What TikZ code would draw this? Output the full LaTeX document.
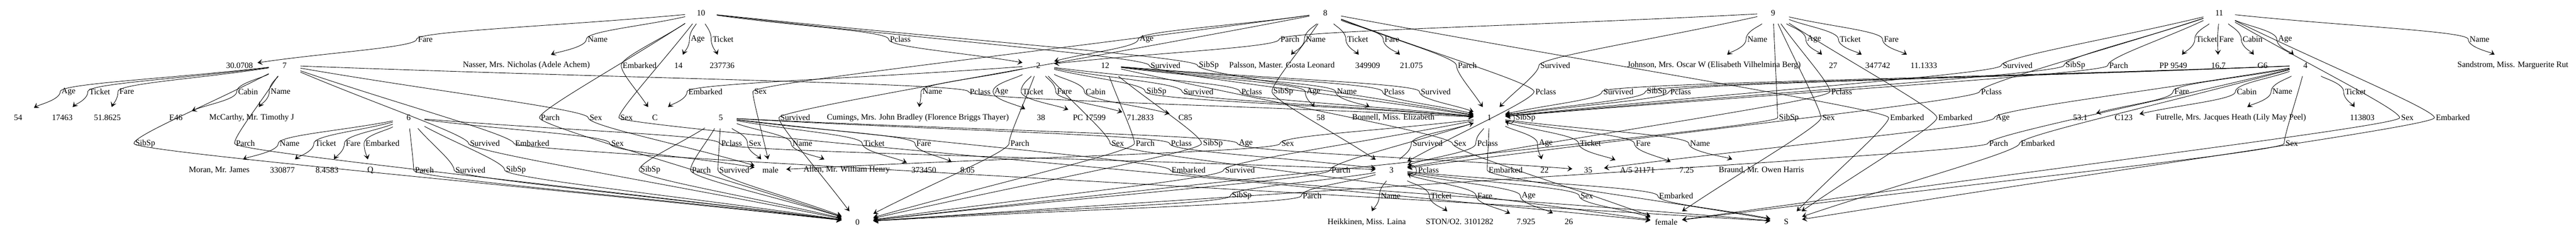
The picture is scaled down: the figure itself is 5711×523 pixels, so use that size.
\documentclass[tikz,border=0pt]{standalone}
\usepackage{fontspec}
\setmainfont{Liberation Serif}
\usetikzlibrary{arrows.meta,calc}

% attribute edge: from, to, label x, label y, attribute
\newcommand{\relate}[5]{%
  \node [lbl] (#1-#5) at (#3,#4) {#5};
  \draw [conn] (#1) .. controls ($(#1)!0.5!(#1-#5.west)$) and ($(#1-#5.west)+(0,-18)$) .. (#1-#5.west)
    .. controls ($(#1-#5.west)+(0,18)$) and ($(#1-#5.west)!0.5!(#2)$) .. (#2);
}

\begin{document}
\begin{tikzpicture}[x=1pt, y=-1pt]
    \tikzstyle{item} = [inner xsep=10pt, inner ysep=0pt, minimum width=70pt, minimum height=47pt, font=\fontsize{18.3}{22}\selectfont]
    \tikzstyle{lbl} = [inner xsep=3pt, inner ysep=1pt, font=\fontsize{18.3}{22}\selectfont]
    \tikzstyle{conn} = [line width=1pt, -{Stealth[length=11pt, width=13pt, inset=5pt]}]
    \useasboundingbox (0,0) rectangle (5711,523);

    % Passengers on top
    \node [item] (pass10) at (1554,29) {10};
    \node [item] (pass8) at (2938,29) {8};
    \node [item] (pass9) at (3931,29) {9};
    \node [item] (pass11) at (4920,29) {11};

    % Second row
    \node [item] (fare10) at (531,145) {30.0708};
    \node [item] (pass7) at (631,145) {7};
    \node [item] (name10) at (1167,145) {Nasser, Mrs. Nicholas (Adele Achem)};
    \node [item] (age10) at (1504,145) {14};
    \node [item] (ticket10) at (1601,145) {237736};
    \node [item] (pass2) at (2302,145) {2};
    \node [item] (pass12) at (2450,145) {12};
    \node [item] (name8) at (2842,145) {Palsson, Master. Gosta Leonard};
    \node [item] (ticket8) at (3032,145) {349909};
    \node [item] (fare8) at (3129,145) {21.075};
    \node [item] (name9) at (3800,145) {Johnson, Mrs. Oscar W (Elisabeth Vilhelmina Berg)};
    \node [item] (age9) at (4064,145) {27};
    \node [item] (ticket9) at (4163,145) {347742};
    \node [item] (fare9) at (4265,145) {11.1333};
    \node [item] (ticket11) at (4818,145) {PP 9549};
    \node [item] (fare11) at (4918,145) {16.7};
    \node [item] (cabin11) at (5016,145) {G6};
    \node [item] (pass4) at (5111,145) {4};
    \node [item] (name11) at (5571,145) {Sandstrom, Miss. Marguerite Rut};

    % Third row
    \node [item] (age7) at (40,261) {54};
    \node [item] (ticket7) at (138,261) {17463};
    \node [item] (fare7) at (238,261) {51.8625};
    \node [item] (cabin7) at (390,261) {E46};
    \node [item] (name7) at (558,261) {McCarthy, Mr. Timothy J};
    \node [item] (pass6) at (906,261) {6};
    \node [item] (port_c) at (1452,261) {C};
    \node [item] (pass5) at (1598,261) {5};
    \node [item] (name2) at (2035,261) {Cumings, Mrs. John Bradley (Florence Briggs Thayer)};
    \node [item] (age2) at (2308,261) {38};
    \node [item] (ticket2) at (2415,261) {PC 17599};
    \node [item] (fare2) at (2528,261) {71.2833};
    \node [item] (cabin2) at (2628,261) {C85};
    \node [item] (age12) at (2928,261) {58};
    \node [item] (name12) at (3089,261) {Bonnell, Miss. Elizabeth};
    \node [item] (pass1) at (3302,261) {1};
    \node [item] (fare4) at (4612,261) {53.1};
    \node [item] (cabin4) at (4708,261) {C123};
    \node [item] (name4) at (4946,261) {Futrelle, Mrs. Jacques Heath (Lily May Peel)};
    \node [item] (ticket4) at (5237,261) {113803};

    % Fourth row
    \node [item] (name6) at (486,377) {Moran, Mr. James};
    \node [item] (ticket6) at (626,377) {330877};
    \node [item] (fare6) at (725,377) {8.4583};
    \node [item] (port_q) at (821,377) {Q};
    \node [item] (male) at (1708,377) {male};
    \node [item] (name5) at (1877,377) {Allen, Mr. William Henry};
    \node [item] (ticket5) at (2048,377) {373450};
    \node [item] (fare5) at (2145,377) {8.05};
    \node [item] (pass3) at (3085,377) {3};
    \node [item] (age1) at (3424,377) {22};
    \node [item] (age35) at (3521,377) {35};
    \node [item] (ticket1) at (3630,377) {A/5 21171};
    \node [item] (fare1) at (3739,377) {7.25};
    \node [item] (name1) at (3905,377) {Braund, Mr. Owen Harris};

    % Bottom row
    \node [item] (zero) at (1901,492) {0};
    \node [item] (name3) at (3030,492) {Heikkinen, Miss. Laina};
    \node [item] (ticket3) at (3236,492) {STON/O2. 3101282};
    \node [item] (fare3) at (3383,492) {7.925};
    \node [item] (age3) at (3478,492) {26};
    \node [item] (female) at (3694,492) {female};
    \node [item] (port_s) at (3960,492) {S};

    % Passenger 1
    \relate{pass1}{zero}{2749}{377}{Survived}
    \relate{pass1}{pass3}{3298}{318}{Pclass}
    \relate{pass1}{name1}{3769}{318}{Name}
    \relate{pass1}{male}{2855}{318}{Sex}
    \relate{pass1}{age1}{3427}{318}{Age}
    \relate{pass1}{zero}{2973}{377}{Parch}
    \relate{pass1}{ticket1}{3526}{318}{Ticket}
    \relate{pass1}{fare1}{3643}{318}{Fare}
    \relate{pass1}{port_s}{3338}{377}{Embarked}
    \node [lbl] (pass1-SibSp) at (3382,261) {SibSp};
    \draw [conn] (pass1.12) .. controls +(26,-14) and +(26,14) .. (pass1.-12);

    % Passenger 2
    \relate{pass2}{pass1}{2657}{203}{Survived}
    \relate{pass2}{pass1}{2775}{203}{Pclass}
    \relate{pass2}{name2}{2067}{203}{Name}
    \relate{pass2}{female}{2478}{318}{Sex}
    \relate{pass2}{age2}{2220}{203}{Age}
    \relate{pass2}{pass1}{2564}{203}{SibSp}
    \relate{pass2}{zero}{2261}{318}{Parch}
    \relate{pass2}{ticket2}{2290}{203}{Ticket}
    \relate{pass2}{fare2}{2360}{203}{Fare}
    \relate{pass2}{cabin2}{2429}{203}{Cabin}
    \relate{pass2}{port_c}{1564}{203}{Embarked}

    % Passenger 3
    \node [lbl] (pass3-Survived) at (3165,318) {Survived};
    \draw [conn] (pass3) .. controls ($(pass3)!0.5!(pass3-Survived.west)$) and ($(pass3-Survived.west)+(0,18)$) .. (pass3-Survived.west)
        .. controls ($(pass3-Survived.west)+(0,-18)$) and ($(pass3-Survived.west)!0.5!(pass1)$) .. (pass1);
    \node [lbl] (pass3-Pclass) at (3167,377) {Pclass};
    \draw [conn] (pass3.12) .. controls +(26,-14) and +(26,14) .. (pass3.-12);
    \relate{pass3}{name3}{3083}{434}{Name}
    \relate{pass3}{female}{3518}{434}{Sex}
    \relate{pass3}{age3}{3389}{434}{Age}
    \relate{pass3}{zero}{2753}{434}{SibSp}
    \relate{pass3}{zero}{2909}{434}{Parch}
    \relate{pass3}{ticket3}{3195}{434}{Ticket}
    \relate{pass3}{fare3}{3292}{434}{Fare}
    \relate{pass3}{port_s}{3716}{434}{Embarked}

    % Passenger 4
    \relate{pass4}{pass1}{3588}{203}{Survived}
    \relate{pass4}{pass1}{3726}{203}{Pclass}
    \relate{pass4}{name4}{5060}{203}{Name}
    \relate{pass4}{female}{5081}{318}{Sex}
    \relate{pass4}{age35}{4440}{261}{Age}
    \relate{pass4}{pass1}{3673}{203}{SibSp}
    \relate{pass4}{zero}{4431}{318}{Parch}
    \relate{pass4}{ticket4}{5222}{203}{Ticket}
    \relate{pass4}{fare4}{4837}{203}{Fare}
    \relate{pass4}{cabin4}{4981}{203}{Cabin}
    \relate{pass4}{port_s}{4518}{318}{Embarked}

    % Passenger 5
    \relate{pass5}{zero}{1628}{377}{Survived}
    \relate{pass5}{pass3}{2619}{318}{Pclass}
    \relate{pass5}{name5}{1779}{318}{Name}
    \relate{pass5}{male}{1674}{318}{Sex}
    \relate{pass5}{age35}{2762}{318}{Age}
    \relate{pass5}{zero}{1442}{377}{SibSp}
    \relate{pass5}{zero}{1555}{377}{Parch}
    \relate{pass5}{ticket5}{1938}{318}{Ticket}
    \relate{pass5}{fare5}{2048}{318}{Fare}
    \relate{pass5}{port_s}{2635}{377}{Embarked}

    % Passenger 6
    \relate{pass6}{zero}{1043}{377}{Survived}
    \relate{pass6}{pass3}{1622}{318}{Pclass}
    \relate{pass6}{name6}{642}{318}{Name}
    \relate{pass6}{male}{1369}{318}{Sex}
    \relate{pass6}{zero}{1144}{377}{SibSp}
    \relate{pass6}{zero}{941}{377}{Parch}
    \relate{pass6}{ticket6}{722}{318}{Ticket}
    \relate{pass6}{fare6}{783}{318}{Fare}
    \relate{pass6}{port_q}{848}{318}{Embarked}

    % Passenger 7
    \relate{pass7}{zero}{1075}{318}{Survived}
    \relate{pass7}{pass1}{2173}{203}{Pclass}
    \relate{pass7}{name7}{622}{203}{Name}
    \relate{pass7}{male}{1321}{261}{Sex}
    \relate{pass7}{age7}{152}{203}{Age}
    \relate{pass7}{zero}{322}{318}{SibSp}
    \relate{pass7}{zero}{544}{318}{Parch}
    \relate{pass7}{ticket7}{221}{203}{Ticket}
    \relate{pass7}{fare7}{281}{203}{Fare}
    \relate{pass7}{cabin7}{550}{203}{Cabin}
    \relate{pass7}{port_s}{1180}{318}{Embarked}

    % Passenger 8
    \relate{pass8}{zero}{1763}{261}{Survived}
    \relate{pass8}{pass3}{3427}{203}{Pclass}
    \relate{pass8}{name8}{2917}{87}{Name}
    \relate{pass8}{male}{1686}{203}{Sex}
    \relate{pass8}{pass2}{2542}{87}{Age}
    \relate{pass8}{pass3}{2845}{203}{SibSp}
    \relate{pass8}{pass1}{3253}{145}{Parch}
    \relate{pass8}{ticket8}{3010}{87}{Ticket}
    \relate{pass8}{fare8}{3086}{87}{Fare}
    \relate{pass8}{port_s}{4228}{261}{Embarked}

    % Passenger 9
    \relate{pass9}{pass1}{3448}{145}{Survived}
    \relate{pass9}{pass3}{4083}{203}{Pclass}
    \relate{pass9}{name9}{3896}{87}{Name}
    \relate{pass9}{female}{4054}{261}{Sex}
    \relate{pass9}{age9}{4022}{87}{Age}
    \relate{pass9}{zero}{3966}{261}{SibSp}
    \relate{pass9}{pass2}{2860}{87}{Parch}
    \relate{pass9}{ticket9}{4102}{87}{Ticket}
    \relate{pass9}{fare9}{4193}{87}{Fare}
    \relate{pass9}{port_s}{4335}{261}{Embarked}

    % Passenger 10
    \relate{pass10}{pass1}{2584}{145}{Survived}
    \relate{pass10}{pass2}{1996}{87}{Pclass}
    \relate{pass10}{name10}{1325}{87}{Name}
    \relate{pass10}{female}{1389}{261}{Sex}
    \relate{pass10}{age10}{1547}{87}{Age}
    \relate{pass10}{pass1}{2680}{145}{SibSp}
    \relate{pass10}{zero}{1220}{261}{Parch}
    \relate{pass10}{ticket10}{1603}{87}{Ticket}
    \relate{pass10}{fare10}{943}{87}{Fare}
    \relate{pass10}{port_c}{1418}{145}{Embarked}

    % Passenger 11
    \relate{pass11}{pass1}{4473}{145}{Survived}
    \relate{pass11}{pass3}{4415}{203}{Pclass}
    \relate{pass11}{name11}{5497}{87}{Name}
    \relate{pass11}{female}{5337}{261}{Sex}
    \relate{pass11}{pass4}{5066}{87}{Age}
    \relate{pass11}{pass1}{4601}{145}{SibSp}
    \relate{pass11}{pass1}{4697}{145}{Parch}
    \relate{pass11}{ticket11}{4892}{87}{Ticket}
    \relate{pass11}{fare11}{4936}{87}{Fare}
    \relate{pass11}{cabin11}{4994}{87}{Cabin}
    \relate{pass11}{port_s}{5438}{261}{Embarked}

    % Passenger 12
    \relate{pass12}{pass1}{3183}{203}{Survived}
    \relate{pass12}{pass1}{3091}{203}{Pclass}
    \relate{pass12}{name12}{2986}{203}{Name}
    \relate{pass12}{female}{3237}{318}{Sex}
    \relate{pass12}{age12}{2912}{203}{Age}
    \relate{pass12}{zero}{2689}{318}{SibSp}
    \relate{pass12}{zero}{2539}{318}{Parch}
\end{tikzpicture}
\end{document}
